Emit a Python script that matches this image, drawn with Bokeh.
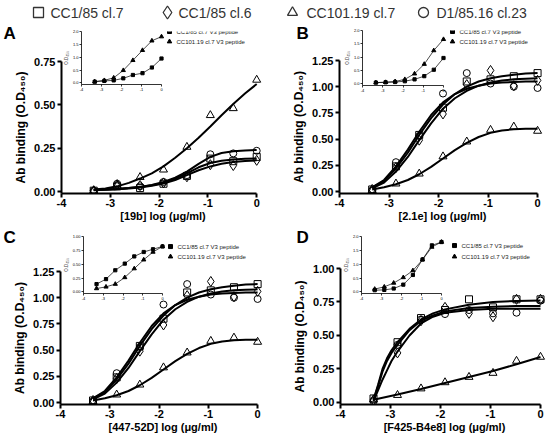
from bokeh.plotting import figure
from bokeh.layouts import column
from bokeh.models import Range1d, FixedTicker, PrintfTickFormatter, GridBox
from bokeh.core.properties import value
from bokeh.embed import file_html
from bokeh.resources import INLINE

FONT = "Liberation Sans"

# ---------------- data ----------------
series_names = ["CC1/85 cl.7", "CC1/85 cl.6", "CC101.19 cl.7", "D1/85.16 cl.23"]
series_markers = ["square", "diamond", "triangle", "circle"]
inset_names = ["CC1/85 cl.7 V3 peptide", "CC101.19 cl.7 V3 peptide"]
panel_letters = ["A", "B", "C", "D"]

dose_x = [-3.34, -2.86, -2.39, -1.91, -1.43, -0.95, -0.48, 0.0]
fit_x = [-3.34, -3.1, -2.86, -2.62, -2.39, -2.15, -1.91, -1.67, -1.43,
         -1.19, -0.95, -0.72, -0.48, -0.24, 0.0]
fit_x_d = [-3.34, -3.25, -3.16, -3.07, -2.98, -2.86, -2.62, -2.39, -2.15,
           -1.91, -1.43, -0.95, -0.48, 0.0]

# Panel A  [19b]
a_sq_pts = [0.005, 0.03, 0.02, 0.045, 0.09, 0.19, 0.175, 0.20]
a_di_pts = [0.005, 0.04, 0.035, 0.05, 0.085, 0.155, 0.15, 0.18]
a_tri_pts = [0.005, 0.035, 0.083, 0.126, 0.257, 0.44, 0.48, 0.644]
a_ci_pts = [0.005, 0.045, 0.03, 0.055, 0.095, 0.215, 0.22, 0.235]
a_sq_fit = [0.01, 0.012, 0.015, 0.02, 0.026, 0.036, 0.05, 0.074, 0.105, 0.14, 0.165, 0.178, 0.185, 0.189, 0.19]
a_di_fit = [0.008, 0.01, 0.013, 0.018, 0.024, 0.033, 0.046, 0.066, 0.095, 0.123, 0.145, 0.16, 0.17, 0.176, 0.18]
a_tri_fit = [0.012, 0.018, 0.03, 0.05, 0.075, 0.105, 0.145, 0.195, 0.25, 0.31, 0.375, 0.44, 0.505, 0.565, 0.62]
a_ci_fit = [0.01, 0.012, 0.015, 0.02, 0.027, 0.038, 0.055, 0.08, 0.115, 0.16, 0.2, 0.222, 0.232, 0.237, 0.24]
a_inset_sq = [0.05, 0.08, 0.1, 0.18, 0.31, 0.38, 0.6, 0.95]
a_inset_tri = [0.05, 0.1, 0.2, 0.49, 0.88, 1.27, 1.64, 1.8]

# Panel B  [2.1e]
b_sq_pts = [0.02, 0.24, 0.54, 0.80, 1.05, 1.07, 1.10, 1.13]
b_di_pts = [0.02, 0.23, 0.49, 0.74, 1.02, 1.155, 1.01, 1.06]
b_tri_pts = [0.01, 0.075, 0.17, 0.334, 0.476, 0.587, 0.618, 0.578]
b_ci_pts = [0.01, 0.28, 0.53, 0.935, 1.13, 1.03, 1.0, 0.988]
b_sq_fit = [0.04, 0.10, 0.22, 0.37, 0.54, 0.70, 0.83, 0.93, 1.0, 1.05, 1.08, 1.10, 1.115, 1.125, 1.13]
b_di_fit = [0.03, 0.085, 0.19, 0.33, 0.49, 0.65, 0.79, 0.89, 0.96, 1.01, 1.04, 1.06, 1.07, 1.075, 1.08]
b_tri_fit = [0.02, 0.04, 0.07, 0.11, 0.165, 0.235, 0.315, 0.395, 0.465, 0.52, 0.56, 0.583, 0.594, 0.598, 0.6]
b_ci_fit = [0.04, 0.11, 0.24, 0.40, 0.57, 0.73, 0.85, 0.93, 0.98, 1.01, 1.03, 1.04, 1.045, 1.05, 1.05]
b_inset_sq = [0.05, 0.06, 0.07, 0.1, 0.17, 0.29, 0.53, 0.97]
b_inset_tri = [0.05, 0.06, 0.09, 0.17, 0.38, 0.74, 1.25, 1.67]

# Panel C  [447-52D]
c_sq_pts = [0.02, 0.24, 0.54, 0.80, 1.05, 1.07, 1.10, 1.13]
c_di_pts = [0.02, 0.23, 0.49, 0.74, 1.02, 1.155, 1.01, 1.06]
c_tri_pts = [0.01, 0.075, 0.17, 0.334, 0.476, 0.587, 0.618, 0.578]
c_ci_pts = [0.01, 0.28, 0.53, 0.935, 1.13, 1.03, 1.0, 0.988]
c_sq_fit = [0.04, 0.10, 0.22, 0.37, 0.54, 0.70, 0.83, 0.93, 1.0, 1.05, 1.08, 1.10, 1.115, 1.125, 1.13]
c_di_fit = [0.03, 0.085, 0.19, 0.33, 0.49, 0.65, 0.79, 0.89, 0.96, 1.01, 1.04, 1.06, 1.07, 1.075, 1.08]
c_tri_fit = [0.02, 0.04, 0.07, 0.11, 0.165, 0.235, 0.315, 0.395, 0.465, 0.52, 0.56, 0.583, 0.594, 0.598, 0.6]
c_ci_fit = [0.04, 0.11, 0.24, 0.40, 0.57, 0.73, 0.85, 0.93, 0.98, 1.01, 1.03, 1.04, 1.045, 1.05, 1.05]
c_inset_sq = [0.14, 0.23, 0.39, 0.51, 0.64, 0.72, 0.77, 0.82]
c_inset_tri = [0.06, 0.09, 0.14, 0.26, 0.42, 0.58, 0.72, 0.82]

# Panel D  [F425-B4e8]
d_sq_pts = [0.03, 0.45, 0.63, 0.69, 0.77, 0.71, 0.77, 0.77]
d_di_pts = [0.02, 0.37, 0.61, 0.71, 0.665, 0.64, 0.77, 0.77]
d_tri_pts = [0.02, 0.055, 0.104, 0.15, 0.19, 0.22, 0.31, 0.34]
d_ci_pts = [0.01, 0.43, 0.62, 0.66, 0.69, 0.665, 0.67, 0.76]
d_sq_fit = [0.02, 0.13, 0.25, 0.33, 0.39, 0.45, 0.55, 0.62, 0.665, 0.695, 0.73, 0.75, 0.758, 0.762]
d_di_fit = [0.01, 0.09, 0.17, 0.24, 0.31, 0.38, 0.50, 0.59, 0.64, 0.67, 0.69, 0.70, 0.70, 0.70]
d_ci_fit = [0.02, 0.12, 0.23, 0.31, 0.37, 0.43, 0.54, 0.61, 0.65, 0.68, 0.705, 0.715, 0.72, 0.72]
d_tri_fit = [0.02, 0.06, 0.10, 0.145, 0.19, 0.235, 0.285, 0.34]
d_inset_sq = [0.06, 0.07, 0.12, 0.26, 0.61, 1.17, 1.68, 1.8]
d_inset_tri = [0.1, 0.18, 0.32, 0.52, 0.77, 1.16, 1.62, 1.8]

# ---------------- helpers ----------------
MARK_SIZE = {"square": 7, "diamond": 10, "triangle": 8, "circle": 7}


def style_axis(ax, font_size, width, tick_out, standoff):
    ax.axis_line_width = width
    ax.axis_line_color = "black"
    ax.major_tick_line_width = width
    ax.major_tick_line_color = "black"
    ax.major_tick_out = tick_out
    ax.major_tick_in = 0
    ax.minor_tick_line_color = None
    ax.major_label_text_font = FONT
    ax.major_label_text_font_size = font_size
    ax.major_label_text_color = "black"
    ax.major_label_standoff = standoff


def base_fig(cw, ch, xr, yr, bl, br, bt, bb):
    p = figure(width=cw, height=ch, x_range=xr, y_range=yr, output_backend="svg",
               toolbar_location=None, min_border_left=round(bl),
               min_border_right=round(br), min_border_top=round(bt),
               min_border_bottom=round(bb), background_fill_color=None,
               border_fill_color=None, outline_line_color=None)
    p.grid.visible = False
    return p


def main_panel(cx, cy, cw, ch, px_m4, px_0, py_0, py_top, ymax, yticks,
               xlabel, xs_fit, fits, pts):
    ppx = (px_0 - px_m4) / 4.0
    ppy = (py_0 - py_top) / ymax
    x_end = 0.16
    y_start = -0.015 * ymax
    fr = px_0 + x_end * ppx
    fb = py_0 - y_start * ppy
    p = base_fig(cw, ch, Range1d(-4, x_end), Range1d(y_start, ymax),
                 px_m4 - cx, cx + cw - fr, py_top - cy, cy + ch - fb)
    style_axis(p.xaxis[0], "11px", 2, 4, 1)
    style_axis(p.yaxis[0], "11px", 2, 4, 2)
    for ax in (p.xaxis[0], p.yaxis[0]):
        ax.major_label_text_font_style = "bold"
        ax.axis_label_text_font = FONT
        ax.axis_label_text_font_style = "bold"
        ax.axis_label_text_color = "black"
    p.xaxis[0].ticker = FixedTicker(ticks=[-4, -3, -2, -1, 0])
    p.xaxis[0].formatter = PrintfTickFormatter(format="%d")
    p.xaxis[0].bounds = (-4, 0)
    p.xaxis[0].axis_label = xlabel
    p.xaxis[0].axis_label_text_font_size = "11px"
    p.xaxis[0].axis_label_standoff = 0
    p.yaxis[0].ticker = FixedTicker(ticks=yticks)
    p.yaxis[0].formatter = PrintfTickFormatter(format="%.2f")
    p.yaxis[0].bounds = (y_start, ymax)
    p.yaxis[0].axis_label = "Ab binding (O.D\u2084\u2085\u2080)"
    p.yaxis[0].axis_label_text_font_size = "12px"
    p.yaxis[0].axis_label_standoff = 3

    for xf, yf in zip(xs_fit, fits):
        p.line(xf, yf, line_color="black", line_width=2)
    for m, yv in zip(series_markers, pts):
        p.scatter(dose_x, yv, marker=m, size=MARK_SIZE[m], fill_alpha=0,
                  line_color="black", line_width=1)
    return p


def inset_panel(cx, cy, cw, ch, px_m4, px_0, py_0, py_top, ymax, yticks, yfmt,
                sq_y, tri_y, leg_px, leg_py):
    """Transparent figure with the same size as the cell; its frame sits on the inset."""
    ppx = (px_0 - px_m4) / 4.0
    ppy = (py_0 - py_top) / ymax
    y_start = -0.03 * ymax
    extra = 95
    x_end = extra / ppx
    fb = py_0 - y_start * ppy
    fr = px_0 + extra
    p = base_fig(cw, ch, Range1d(-4, x_end), Range1d(y_start, ymax),
                 px_m4 - cx, cx + cw - fr, py_top - cy, cy + ch - fb)
    style_axis(p.xaxis[0], "4px", 0.8, 2, 1)
    style_axis(p.yaxis[0], "4px", 0.8, 2, 1)
    p.xaxis[0].ticker = FixedTicker(ticks=[-4, -3, -2, -1, 0])
    p.xaxis[0].formatter = PrintfTickFormatter(format="%d")
    p.xaxis[0].bounds = (-4, 0)
    p.yaxis[0].ticker = FixedTicker(ticks=yticks)
    p.yaxis[0].formatter = PrintfTickFormatter(format=yfmt)
    p.yaxis[0].bounds = (y_start, ymax)
    p.yaxis[0].axis_label = "O.D\u2084\u2085\u2080"
    p.yaxis[0].axis_label_text_font = FONT
    p.yaxis[0].axis_label_text_font_style = "normal"
    p.yaxis[0].axis_label_text_font_size = "4.5px"
    p.yaxis[0].axis_label_standoff = 1

    p.line(dose_x, sq_y, line_color="black", line_width=0.7)
    p.line(dose_x, tri_y, line_color="black", line_width=0.7)
    p.scatter(dose_x, sq_y, marker="square", size=3.2, color="black")
    p.scatter(dose_x, tri_y, marker="triangle", size=4.2, color="black")

    # legend (placed from pixel layout constants, converted to inset units)
    lx = (leg_px - px_0) / ppx
    ly = [(py_0 - yy) / ppy for yy in leg_py]
    tx = (leg_px + 7 - px_0) / ppx
    p.scatter([lx], [ly[0]], marker="square", size=4, color="black")
    p.scatter([lx], [ly[1]], marker="triangle", size=4.5, color="black")
    p.text([tx, tx], ly, text=inset_names, text_font=value(FONT),
           text_font_size=value("6px"), text_baseline="middle",
           text_align="left", text_color="#222")
    return p


# ---------------- top legend (its own 22 px row) ----------------
legend_marker_px = [38, 167, 292, 423]
legend_text_px = [50, 178, 306, 436]
legend_py = 12
lp = figure(width=549, height=22, x_range=Range1d(0, 549), y_range=Range1d(22, 0),
            x_axis_type=None, y_axis_type=None, min_border=0,
            output_backend="svg", toolbar_location=None,
            outline_line_color=None, background_fill_color=None,
            border_fill_color=None)
lp.grid.visible = False
for m, mx in zip(series_markers, legend_marker_px):
    lp.scatter([mx], [legend_py], marker=m, size=10 if m != "diamond" else 13,
               fill_alpha=0, line_color="#333", line_width=1.3)
lp.text(legend_text_px, [legend_py] * 4, text=series_names, text_font=value(FONT),
        text_font_size=value("14px"), text_baseline="middle", text_align="left",
        text_color="#333")

# ---------------- page overlay carrying the panel letters ----------------
letter_px = [3, 296, 3, 296]
letter_py = [33, 33, 237, 237]
ov = figure(width=549, height=439, x_range=Range1d(0, 549), y_range=Range1d(439, 0),
            x_axis_type=None, y_axis_type=None, min_border=0,
            output_backend="svg", toolbar_location=None,
            outline_line_color=None, background_fill_color=None,
            border_fill_color=None)
ov.grid.visible = False
ov.text(letter_px, letter_py, text=panel_letters, text_font=value(FONT),
        text_font_size=value("17px"), text_font_style="bold",
        text_baseline="middle", text_align="left", text_color="black")

# ---------------- panels ----------------
pa = main_panel(0, 22, 277, 202, 61, 256, 191, 61, 0.75, [0, 0.25, 0.5, 0.75],
                "[19b] log (\u03bcg/ml)", [fit_x] * 4,
                [a_sq_fit, a_di_fit, a_tri_fit, a_ci_fit],
                [a_sq_pts, a_di_pts, a_tri_pts, a_ci_pts])
pb = main_panel(277, 22, 272, 202, 339, 537, 191, 60, 1.25,
                [0, 0.25, 0.5, 0.75, 1.0, 1.25],
                "[2.1e] log (\u03bcg/ml)", [fit_x] * 4,
                [b_sq_fit, b_di_fit, b_tri_fit, b_ci_fit],
                [b_sq_pts, b_di_pts, b_tri_pts, b_ci_pts])
pc = main_panel(0, 224, 277, 215, 60, 257, 402, 271, 1.25,
                [0, 0.25, 0.5, 0.75, 1.0, 1.25],
                "[447-52D] log (\u03bcg/ml)", [fit_x] * 4,
                [c_sq_fit, c_di_fit, c_tri_fit, c_ci_fit],
                [c_sq_pts, c_di_pts, c_tri_pts, c_ci_pts])
pd = main_panel(277, 224, 272, 215, 340, 540, 402, 268, 1.0,
                [0, 0.25, 0.5, 0.75, 1.0],
                "[F425-B4e8] log (\u03bcg/ml)",
                [fit_x_d, fit_x_d, dose_x, fit_x_d],
                [d_sq_fit, d_di_fit, d_tri_fit, d_ci_fit],
                [d_sq_pts, d_di_pts, d_tri_pts, d_ci_pts])

ia = inset_panel(0, 22, 277, 202, 81, 161, 82, 31, 2.0, [0, 0.5, 1.0, 1.5, 2.0], "%.1f",
                 a_inset_sq, a_inset_tri, 169, [31, 41])
ib = inset_panel(277, 22, 272, 202, 362, 443, 83, 30, 2.0, [0, 0.5, 1.0, 1.5, 2.0], "%.1f",
                 b_inset_sq, b_inset_tri, 452, [31, 41])
ic = inset_panel(0, 224, 277, 215, 83, 162, 291, 236, 1.0, [0, 0.25, 0.5, 0.75, 1.0], "%.2f",
                 c_inset_sq, c_inset_tri, 170, [246, 256])
idd = inset_panel(277, 224, 272, 215, 361, 441, 291, 236, 2.0, [0, 0.5, 1.0, 1.5, 2.0], "%.1f",
                  d_inset_sq, d_inset_tri, 454, [245, 256])


def wrap(f):
    # each figure in its own column so the grid does not align frames across figures
    return column(f, width=f.width, height=f.height, spacing=0)


grid = GridBox(children=[(wrap(lp), 0, 0, 1, 2),
                         (wrap(pa), 1, 0), (wrap(ia), 1, 0),
                         (wrap(pb), 1, 1), (wrap(ib), 1, 1),
                         (wrap(pc), 2, 0), (wrap(ic), 2, 0),
                         (wrap(pd), 2, 1), (wrap(idd), 2, 1),
                         (wrap(ov), 0, 0, 3, 2)],
               spacing=0)

open("out.html", "w").write(file_html(grid, INLINE))
